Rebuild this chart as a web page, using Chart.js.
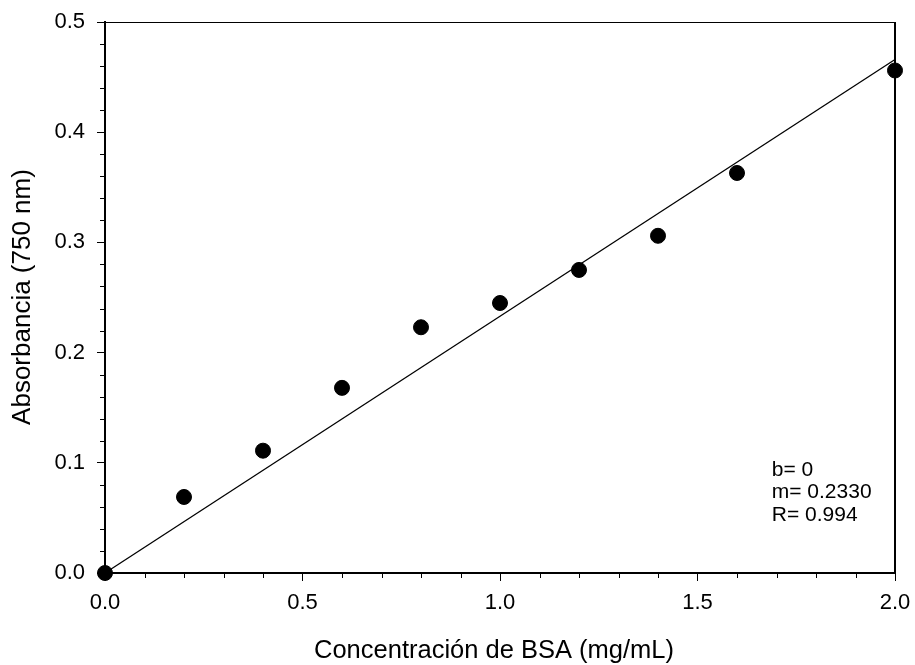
<!DOCTYPE html>
<html>
<head>
<meta charset="utf-8">
<script src="https://cdn.jsdelivr.net/npm/chart.js@4.4.1/dist/chart.umd.min.js"></script>
<style>
  html, body { margin: 0; padding: 0; background: #fff; }
  #wrap { width: 915px; height: 665px; }
</style>
</head>
<body>
<div id="wrap"><canvas id="myChart" width="915" height="665"></canvas></div>
<script>
//? DATOS

const concentracion = [0.0, 0.2, 0.4, 0.6, 0.8, 1.0, 1.2, 1.4, 1.6, 2.0];
const absorbancia = [0.0, 0.069, 0.111, 0.168, 0.223, 0.245, 0.275, 0.306, 0.363, 0.456];
const pendiente = 0.2330;
const intercepto = 0;
const rangoRecta = [0.0, 2.0];
const textoAjuste = ["b= 0", "m= 0.2330", "R= 0.994"];
const posAjuste = { x: 1.688, y: [0.0935, 0.073, 0.0529] };
const tituloX = "Concentración de BSA (mg/mL)";
const tituloY = "Absorbancia (750 nm)";

const fuente = "'Liberation Sans', Arial, sans-serif";

//? PUNTOS Y RECTA

const puntos = concentracion.map((x, i) => ({ x, y: absorbancia[i] }));
const recta = rangoRecta.map((x) => ({ x, y: intercepto + pendiente * x }));

//? PLUGIN: MARCO, TICKS MENORES, TITULOS Y TEXTO DEL AJUSTE

const extras = {
  id: "extras",
  afterDraw(chart) {
    const { ctx, chartArea: a, scales } = chart;
    ctx.save();
    ctx.strokeStyle = "#000";
    // marco superior y derecho
    ctx.lineWidth = 1;
    ctx.beginPath();
    ctx.moveTo(a.left, a.top + 0.5);
    ctx.lineTo(a.right, a.top + 0.5);
    ctx.stroke();
    ctx.lineWidth = 2;
    ctx.beginPath();
    ctx.moveTo(a.right, a.top);
    ctx.lineTo(a.right, a.bottom);
    ctx.stroke();

    // ticks menores
    ctx.lineWidth = 1;
    const xs = scales.x;
    for (let i = 1; i < 20; i++) {
      if (i % 5 === 0) continue;
      const px = Math.round(xs.getPixelForValue(i * 0.1)) + 0.5;
      ctx.beginPath();
      ctx.moveTo(px, a.bottom);
      ctx.lineTo(px, a.bottom + 5);
      ctx.stroke();
    }
    const ys = scales.y;
    for (let i = 1; i < 25; i++) {
      if (i % 5 === 0) continue;
      const py = Math.round(ys.getPixelForValue(i * 0.02)) + 0.5;
      ctx.beginPath();
      ctx.moveTo(a.left, py);
      ctx.lineTo(a.left - 5, py);
      ctx.stroke();
    }

    // titulos
    ctx.fillStyle = "#000";
    ctx.textAlign = "center";
    ctx.textBaseline = "middle";
    ctx.font = "25.5px " + fuente;
    ctx.fillText(tituloX, 494, 651);
    ctx.save();
    ctx.font = "26px " + fuente;
    ctx.translate(23, 297);
    ctx.rotate(-Math.PI / 2);
    ctx.fillText(tituloY, 0, 0);
    ctx.restore();

    // texto del ajuste
    ctx.font = "21px " + fuente;
    ctx.textAlign = "left";
    textoAjuste.forEach((t, i) => {
      ctx.fillText(t, xs.getPixelForValue(posAjuste.x), ys.getPixelForValue(posAjuste.y[i]));
    });
    ctx.restore();
  },
};

//? GRAFICO

const config = {
  type: "scatter",
  data: {
    datasets: [
      {
        label: "Absorbancia",
        data: puntos,
        backgroundColor: "#000",
        borderColor: "#000",
        pointRadius: 7.5,
        pointHoverRadius: 7.5,
        clip: false,
      },
      {
        label: "Ajuste",
        data: recta,
        showLine: true,
        borderColor: "#000",
        borderWidth: 1.3,
        pointRadius: 0,
        clip: false,
      },
    ],
  },
  options: {
    responsive: false,
    animation: false,
    layout: { padding: { top: 22, right: 20, left: 0, bottom: 0 } },
    plugins: { legend: { display: false }, tooltip: { enabled: false } },
    scales: {
      x: {
        type: "linear",
        min: 0,
        max: 2,
        afterFit(scale) {
          scale.height = 92;
          scale.paddingLeft = 0;
          scale.paddingRight = 0;
        },
        border: { display: true, color: "#000", width: 2 },
        grid: { drawOnChartArea: false, drawTicks: true, tickLength: 8, tickColor: "#000", tickWidth: 1 },
        ticks: {
          stepSize: 0.5,
          color: "#000",
          padding: 9,
          font: { family: fuente, size: 22 },
          maxRotation: 0,
          callback: (v) => v.toFixed(1),
        },
      },
      y: {
        type: "linear",
        min: 0,
        max: 0.5,
        afterFit(scale) {
          scale.width = 105;
          scale.paddingTop = 0;
          scale.paddingBottom = 0;
        },
        border: { display: true, color: "#000", width: 2 },
        grid: { drawOnChartArea: false, drawTicks: true, tickLength: 8, tickColor: "#000", tickWidth: 1 },
        ticks: {
          stepSize: 0.1,
          color: "#000",
          padding: 12,
          font: { family: fuente, size: 22 },
          callback: (v) => v.toFixed(1),
        },
      },
    },
  },
  plugins: [extras],
};

const myChart = new Chart("myChart", config);
</script>
</body>
</html>
